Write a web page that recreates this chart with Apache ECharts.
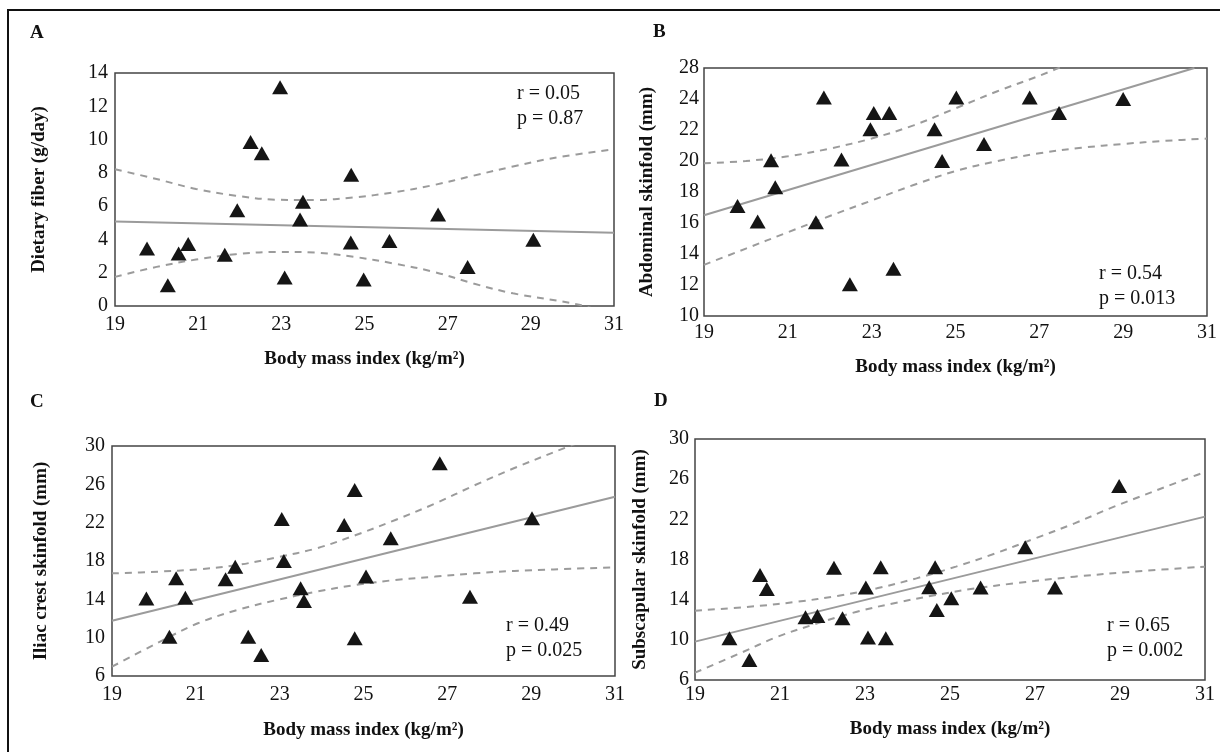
<!DOCTYPE html>
<html>
<head>
<meta charset="utf-8">
<title>BMI vs fiber and skinfolds</title>
<script src="https://cdn.jsdelivr.net/npm/echarts@6/dist/echarts.min.js"></script>
<style>
  html, body { margin: 0; padding: 0; background: #fff; }
  #wrap { position: relative; width: 1220px; height: 752px; overflow: hidden; }
  #frame { position: absolute; left: 7px; top: 9px; width: 1300px; height: 800px;
           border-left: 2px solid #111; border-top: 2px solid #111; }
  #chart { position: absolute; left: 0; top: 0; width: 1220px; height: 752px; }
</style>
</head>
<body>
<div id="wrap"><div id="frame"></div><div id="chart"></div></div>
<script>
// tick labels
var xTicks = [19, 21, 23, 25, 27, 29, 31];
var yTicksA = [0, 2, 4, 6, 8, 10, 12, 14];
var yTicksB = [10, 12, 14, 16, 18, 20, 22, 24, 28]; // top label reads 28 in the original
var yTicksC = [6, 10, 14, 18, 22, 26, 30];
var yTicksD = [6, 10, 14, 18, 22, 26, 30];

// A - dietary fiber
var bmiA = [19.77, 20.27, 20.53, 20.76, 21.64, 21.94, 22.26, 22.53, 22.97, 23.08, 23.45, 23.52, 24.67, 24.68, 24.98, 25.6, 26.77, 27.48, 29.06];
var fiberA = [3.45, 1.25, 3.15, 3.72, 3.08, 5.75, 9.85, 9.18, 13.15, 1.71, 5.2, 6.26, 3.82, 7.88, 1.59, 3.9, 5.5, 2.35, 3.98];
var fitA = [[19, 5.08], [31, 4.4]];
var upperA = [[19, 8.22], [20, 7.63], [20.95, 7.03], [21.9, 6.63], [22.86, 6.39], [23.81, 6.37], [24.76, 6.53], [25.71, 6.83], [26.67, 7.27], [27.62, 7.83], [28.57, 8.38], [29.52, 8.88], [31, 9.42]];
var lowerA = [[19, 1.75], [20, 2.35], [20.95, 2.79], [21.9, 3.11], [22.86, 3.25], [23.81, 3.21], [24.76, 2.95], [25.71, 2.55], [26.67, 2.05], [27.62, 1.35], [28.57, 0.76], [30.19, 0.06], [31, -0.6]];

// B - abdominal skinfold
var bmiB = [19.8, 20.28, 20.6, 20.7, 21.67, 21.86, 22.28, 22.48, 22.97, 23.05, 23.42, 23.52, 24.5, 24.68, 25.02, 25.68, 26.77, 27.47, 29.0];
var abdB = [17.1, 16.1, 20.05, 18.3, 16.05, 24.1, 20.1, 12.05, 22.05, 23.1, 23.1, 13.05, 22.05, 20.0, 24.1, 21.1, 24.1, 23.1, 24.0];
var fitB = [[19, 16.5], [30.7, 26]];
var upperB = [[19, 19.85], [20, 20.0], [21, 20.3], [22, 20.8], [23, 21.45], [24, 22.3], [25, 23.4], [26, 24.5], [27, 25.5], [28, 26.6]];
var lowerB = [[19, 13.3], [20, 14.35], [21, 15.4], [22, 16.45], [23, 17.45], [24, 18.45], [25, 19.35], [26, 20.0], [27, 20.5], [28, 20.85], [29, 21.1], [30, 21.3], [31, 21.45]];

// C - iliac crest skinfold
var bmiC = [19.82, 20.37, 20.53, 20.75, 21.71, 21.94, 22.25, 22.56, 23.05, 23.1, 23.5, 23.58, 24.54, 24.79, 24.79, 25.06, 25.65, 26.82, 27.54, 29.02];
var iliacC = [14.1, 10.1, 16.2, 14.17, 16.09, 17.4, 10.1, 8.19, 22.38, 18.0, 15.15, 13.83, 21.76, 25.4, 9.93, 16.37, 20.37, 28.19, 14.28, 22.45];
var fitC = [[19, 11.77], [31, 24.7]];
var upperC = [[19, 16.71], [20.1, 16.89], [21.05, 17.13], [21.99, 17.58], [22.93, 18.38], [23.88, 19.32], [24.82, 20.71], [25.76, 22.28], [26.71, 24.0], [27.65, 25.9], [28.6, 27.7], [29.92, 30.0], [31, 31.8]];
var lowerC = [[19, 6.97], [20.1, 9.48], [21.05, 11.5], [21.99, 12.89], [22.93, 13.93], [23.88, 14.8], [24.82, 15.5], [25.76, 16.02], [26.71, 16.37], [27.65, 16.71], [28.6, 16.96], [31, 17.34]];

// D - subscapular skinfold
var bmiD = [19.81, 20.28, 20.53, 20.69, 21.6, 21.88, 22.27, 22.47, 23.02, 23.07, 23.37, 23.49, 24.51, 24.65, 24.69, 25.03, 25.72, 26.77, 27.47, 28.98];
var subD = [10.15, 7.99, 16.46, 15.06, 12.24, 12.37, 17.19, 12.14, 15.2, 10.22, 17.22, 10.15, 15.23, 17.22, 12.97, 14.13, 15.2, 19.21, 15.2, 25.32];
var fitD = [[19, 9.82], [31, 22.27]];
var upperD = [[19, 12.9], [20.49, 13.37], [21.42, 13.8], [22.35, 14.37], [23.28, 15.13], [24.21, 16.12], [25.14, 17.29], [26.07, 18.61], [27.0, 20.1], [27.93, 21.6], [28.86, 23.26], [30.81, 26.42], [31, 26.7]];
var lowerD = [[19, 6.73], [20.02, 8.59], [20.95, 10.32], [21.88, 11.64], [22.81, 12.8], [23.74, 13.7], [24.67, 14.46], [25.6, 15.13], [26.53, 15.63], [27.93, 16.29], [29.33, 16.79], [31, 17.29]];

var serif = '"Liberation Serif", "DejaVu Serif", serif';
var ink = '#111';
var lineGray = '#9b9b9b';

var panels = [
  { letter: 'A', stats: 'r = 0.05\np = 0.87', yName: 'Dietary fiber (g/day)', yTicks: yTicksA,
    x: bmiA, y: fiberA, fit: fitA, up: upperA, lo: lowerA,
    grid: { left: 115, top: 73, width: 499, height: 233 },
    yGap: 66, xGap: 44, xMargin: 9, yMargin: 7,
    letterPos: [30, 24], statsPos: [517, 81] },
  { letter: 'B', stats: 'r = 0.54\np = 0.013', yName: 'Abdominal skinfold (mm)', yTicks: yTicksB,
    x: bmiB, y: abdB, fit: fitB, up: upperB, lo: lowerB,
    grid: { left: 704, top: 68, width: 504, height: 248 },
    yGap: 47, xGap: 42, xMargin: 7, yMargin: 5,
    letterPos: [653, 23], statsPos: [1099, 261] },
  { letter: 'C', stats: 'r = 0.49\np = 0.025', yName: 'Iliac crest skinfold (mm)', yTicks: yTicksC,
    x: bmiC, y: iliacC, fit: fitC, up: upperC, lo: lowerC,
    grid: { left: 112, top: 446, width: 503, height: 230 },
    yGap: 61, xGap: 45, xMargin: 9, yMargin: 7,
    letterPos: [30, 393], statsPos: [506, 613] },
  { letter: 'D', stats: 'r = 0.65\np = 0.002', yName: 'Subscapular skinfold (mm)', yTicks: yTicksD,
    x: bmiD, y: subD, fit: fitD, up: upperD, lo: lowerD,
    grid: { left: 695, top: 439, width: 510, height: 241 },
    yGap: 45, xGap: 40, xMargin: 5, yMargin: 6,
    letterPos: [654, 392], statsPos: [1107, 613] }
];

var grids = [], xAxes = [], yAxes = [], series = [], titles = [];

panels.forEach(function (p, i) {
  grids.push(Object.assign({ show: true, borderColor: '#444', borderWidth: 1.5 }, p.grid));

  xAxes.push({
    gridIndex: i, type: 'value',
    min: xTicks[0], max: xTicks[xTicks.length - 1], interval: xTicks[1] - xTicks[0],
    name: 'Body mass index (kg/m²)', nameLocation: 'middle', nameGap: p.xGap,
    nameTextStyle: { fontFamily: serif, fontWeight: 'bold', fontSize: 19, color: ink },
    axisLine: { show: false }, axisTick: { show: false }, splitLine: { show: false },
    axisLabel: { fontFamily: serif, fontSize: 20, color: ink, margin: p.xMargin,
                 showMinLabel: true, showMaxLabel: true }
  });

  var ticks = p.yTicks;
  var step = ticks[1] - ticks[0];
  yAxes.push({
    gridIndex: i, type: 'value',
    min: ticks[0], max: ticks[0] + step * (ticks.length - 1), interval: step,
    name: p.yName, nameLocation: 'middle', nameGap: p.yGap,
    nameTextStyle: { fontFamily: serif, fontWeight: 'bold', fontSize: 19, color: ink },
    axisLine: { show: false }, axisTick: { show: false }, splitLine: { show: false },
    axisLabel: { fontFamily: serif, fontSize: 20, color: ink, margin: p.yMargin,
                 showMinLabel: true, showMaxLabel: true,
                 formatter: function (v, idx) { return String(ticks[idx]); } }
  });

  series.push({
    type: 'line', xAxisIndex: i, yAxisIndex: i, data: p.fit, symbol: 'none', z: 2,
    lineStyle: { color: lineGray, width: 2 }
  });
  [p.up, p.lo].forEach(function (band) {
    series.push({
      type: 'line', xAxisIndex: i, yAxisIndex: i, data: band, symbol: 'none', smooth: 0.35, z: 2,
      lineStyle: { color: lineGray, width: 2, type: [7, 6] }
    });
  });
  series.push({
    type: 'scatter', xAxisIndex: i, yAxisIndex: i, z: 3,
    data: p.x.map(function (b, k) { return [b, p.y[k]]; }),
    symbol: 'triangle', symbolSize: [16, 14],
    itemStyle: { color: '#151515', opacity: 1 }
  });

  titles.push({
    text: p.letter, left: p.letterPos[0], top: p.letterPos[1], padding: 0,
    textStyle: { fontFamily: serif, fontWeight: 'bold', fontSize: 19, color: ink }
  });
  titles.push({
    text: p.stats, left: p.statsPos[0], top: p.statsPos[1], padding: 0,
    textStyle: { fontFamily: serif, fontWeight: 'normal', fontSize: 20, lineHeight: 25, color: ink }
  });
});

var myChart = echarts.init(document.getElementById('chart'));
myChart.setOption({
  animation: false,
  title: titles,
  grid: grids,
  xAxis: xAxes,
  yAxis: yAxes,
  series: series
});
</script>
</body>
</html>
